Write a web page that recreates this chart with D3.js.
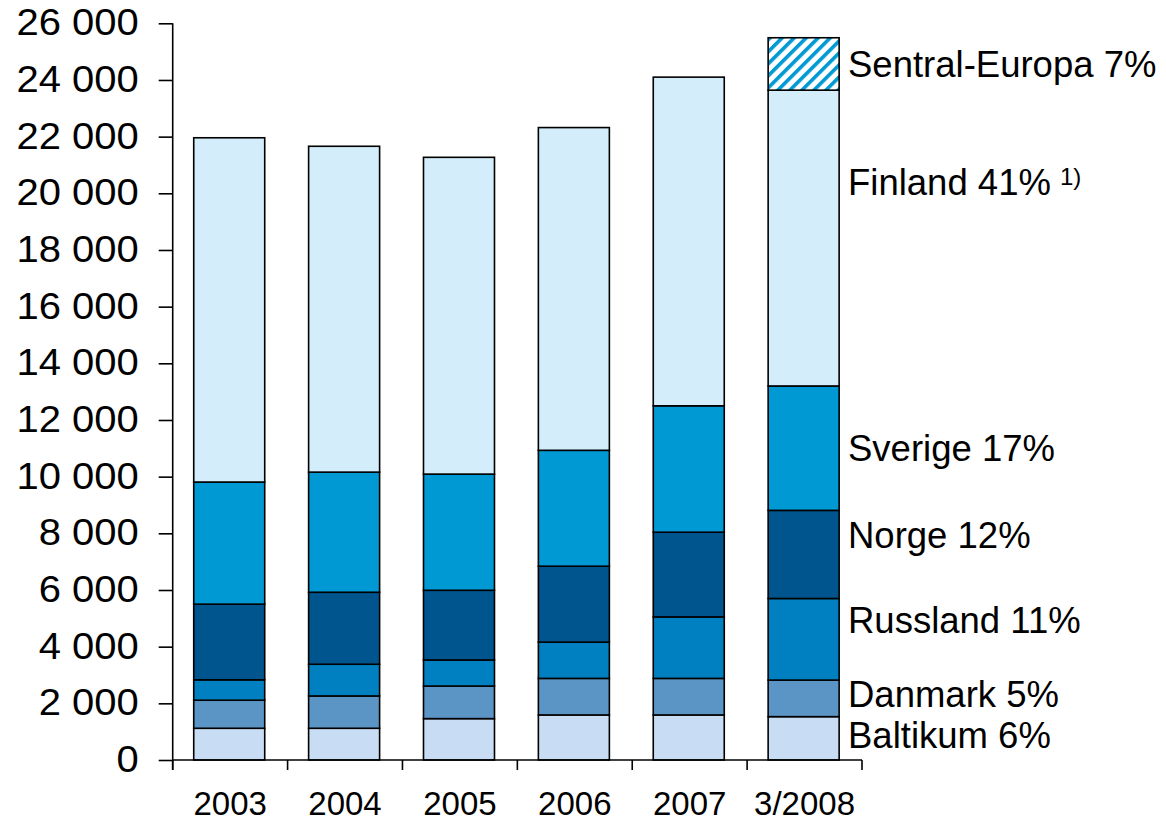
<!DOCTYPE html>
<html>
<head>
<meta charset="utf-8">
<script src="https://cdn.jsdelivr.net/npm/d3@7"></script>
<style>
  html, body { margin: 0; padding: 0; background: #fff; }
  svg { display: block; font-family: "Liberation Sans", Arial, sans-serif; }
</style>
</head>
<body>
<svg id="frame" width="1166" height="821"></svg>
<script>
// categories on the x axis
const categories = ["2003", "2004", "2005", "2006", "2007", "3/2008"];

// series values, bottom to top
const baltikum = [1120, 1120, 1460, 1590, 1590, 1530];
const danmark = [990, 1140, 1150, 1290, 1290, 1290];
const russland = [720, 1120, 920, 1280, 2170, 2880];
const norge = [2670, 2540, 2460, 2680, 2990, 3110];
const sverige = [4310, 4240, 4100, 4090, 4460, 4390];
const finland = [12150, 11500, 11180, 11390, 11600, 10440];
const sentralEuropa = [0, 0, 0, 0, 0, 1850];

const seriesNames = ["Baltikum", "Danmark", "Russland", "Norge", "Sverige", "Finland", "Sentral-Europa"];
const shares = ["6%", "5%", "11%", "12%", "17%", "41%", "7%"];
const yTicks = d3.range(0, 26001, 2000);

// styling (kept apart from the data)
const colors = ["#c8ddf3", "#5b95c5", "#0080c1", "#00558e", "#0099d3", "#d3edfa", "url(#hatch)"];
// small vertical nudges (px) for the right-hand labels
const labelNudge = [-3, -4, -19, -19, 0, -56, 0];

const config = { width: 1166, height: 821 };
const margin = { left: 172.7, right: 862, top: 23.3, bottom: 760 };

const svg = d3.select("#frame");

// hatch pattern for Sentral-Europa
const defs = svg.append("defs");
const pat = defs.append("pattern")
  .attr("id", "hatch")
  .attr("patternUnits", "userSpaceOnUse")
  .attr("width", 8.5).attr("height", 8.5)
  .attr("patternTransform", "rotate(45)");
pat.append("rect").attr("width", 8.5).attr("height", 8.5).attr("fill", "#fff");
pat.append("rect").attr("width", 3.6).attr("height", 8.5).attr("fill", "#0099d3");

// build table for stacking
const keys = seriesNames;
const allSeries = [baltikum, danmark, russland, norge, sverige, finland, sentralEuropa];
const table = categories.map((c, i) => {
  let row = { cat: c };
  keys.forEach((k, j) => { row[k] = allSeries[j][i]; });
  return row;
});
const stacked = d3.stack().keys(keys)(table);

const x = d3.scaleBand().domain(categories).range([margin.left, margin.right]).padding(0);
const y = d3.scaleLinear().domain([0, 26000]).range([margin.bottom, margin.top]);

const barOffset = x.bandwidth() * 0.183;
const barWidth = x.bandwidth() * 0.618;

// bars
const layers = svg.append("g").attr("class", "bars")
  .selectAll("g")
  .data(stacked)
  .join("g")
  .attr("fill", (d, i) => colors[i]);

layers.selectAll("rect")
  .data(d => d.filter(s => s[1] - s[0] > 0))
  .join("rect")
  .attr("x", d => x(d.data.cat) + barOffset)
  .attr("width", barWidth)
  .attr("y", d => y(d[1]))
  .attr("height", d => y(d[0]) - y(d[1]))
  .attr("stroke", "#000")
  .attr("stroke-width", 1.6);

// y axis
const yAxis = d3.axisLeft(y)
  .tickValues(yTicks)
  .tickSize(14)
  .tickPadding(20)
  .tickFormat(d => d3.format(",")(d).replace(/,/g, " "));

const gy = svg.append("g")
  .attr("transform", `translate(${margin.left},0)`)
  .call(yAxis);
gy.select(".domain").attr("stroke", "#000").attr("stroke-width", 1.6)
  .attr("d", `M0,${margin.top}V${margin.bottom + 10}`);
gy.selectAll(".tick line").attr("stroke", "#000").attr("stroke-width", 1.6);
gy.selectAll(".tick text")
  .attr("font-size", 36)
  .attr("fill", "#000")
  .attr("font-family", "Liberation Sans, Arial, sans-serif")
  .each(function () {
    const w = this.getComputedTextLength();
    d3.select(this).attr("textLength", w * 1.11).attr("lengthAdjust", "spacingAndGlyphs");
  });

// x axis: baseline with ticks at category boundaries
const boundaries = categories.map(c => x(c)).concat([margin.right]);
const gx = svg.append("g").attr("class", "x-axis");
gx.append("line")
  .attr("x1", margin.left).attr("x2", margin.right)
  .attr("y1", margin.bottom).attr("y2", margin.bottom)
  .attr("stroke", "#000").attr("stroke-width", 1.6);
gx.selectAll("line.tick")
  .data(boundaries)
  .join("line")
  .attr("class", "tick")
  .attr("x1", d => d).attr("x2", d => d)
  .attr("y1", margin.bottom).attr("y2", margin.bottom + 10)
  .attr("stroke", "#000").attr("stroke-width", 1.6);
gx.selectAll("text")
  .data(categories)
  .join("text")
  .attr("x", d => x(d) + x.bandwidth() / 2)
  .attr("y", 815)
  .attr("text-anchor", "middle")
  .attr("font-size", 33)
  .attr("fill", "#000")
  .text(d => d);

// right-hand labels next to the last bar
const last = categories.length - 1;
const labels = svg.append("g").attr("class", "labels");
stacked.forEach((s, i) => {
  const seg = s[last];
  const mid = (y(seg[0]) + y(seg[1])) / 2;
  const t = labels.append("text")
    .attr("x", 848)
    .attr("y", mid + labelNudge[i] + 13)
    .attr("font-size", 36.5)
    .attr("fill", "#000")
    .text(`${seriesNames[i]} ${shares[i]}`);
  if (seriesNames[i] === "Finland") {
    t.append("tspan")
      .attr("dx", 9)
      .attr("dy", -10)
      .attr("font-size", 24)
      .text("1)");
  }
});
</script>
</body>
</html>
